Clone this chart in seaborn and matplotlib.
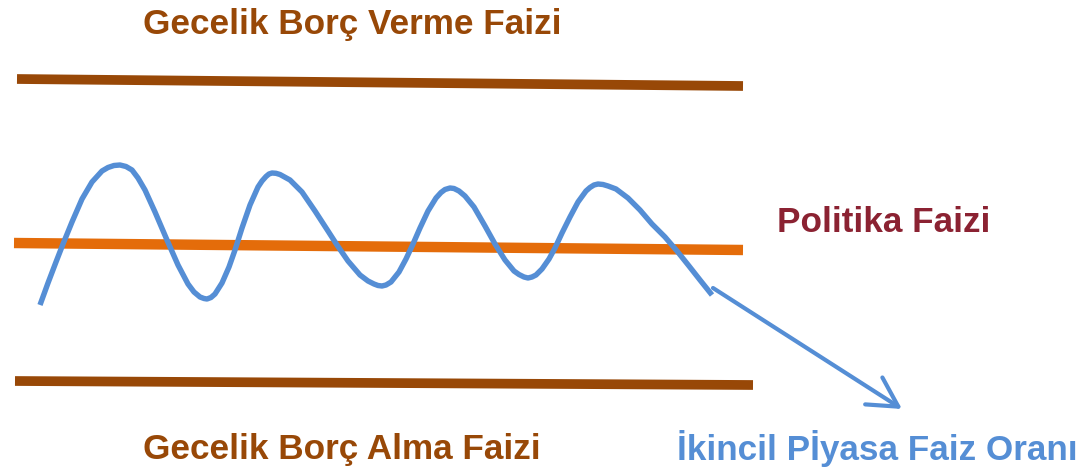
import matplotlib as mpl
import matplotlib.pyplot as plt
import numpy as np
import pandas as pd
import seaborn as sns

# values, in picture pixels (y grows downwards)
upper_band_x = [17, 743]
upper_band_y = [79, 86]
policy_x = [14, 743]
policy_y = [243, 250]
lower_band_x = [15, 753]
lower_band_y = [381, 385]

wave_x = [40, 48, 56, 63, 72, 82, 92, 102, 108, 114, 120,
          126, 132, 138, 145, 155, 167, 178, 188, 194, 200, 204, 207,
          211, 215, 222, 229, 235, 242, 250, 258, 262, 266, 269, 272,
          276, 280, 290, 302, 315, 328, 337, 348, 360, 368, 374, 378, 382,
          386, 391, 399, 406, 413, 420, 428, 436, 441, 445, 450,
          454, 459, 465, 474, 485, 495, 505, 514, 519, 524, 528,
          532, 536, 542, 549, 555, 562, 570, 578, 586, 590, 594, 598,
          603, 608, 616, 628, 640, 652, 665, 677, 689, 700, 712]
wave_y = [305, 283, 262, 244, 222, 199, 182, 171, 167.5, 165.5, 165,
          166.5, 170, 178, 190, 212, 240, 265, 284, 292, 297, 298.5, 299,
          297.5, 294, 283, 267, 250, 228, 205, 187, 181, 176.5, 174, 173,
          173.3, 174.5, 180, 192, 211, 231, 245, 261, 275, 281, 284, 285.5, 286,
          285, 282, 272, 259, 244, 228, 211, 198, 192.5, 189.5, 188,
          188.5, 191, 196, 207, 226, 244, 260, 271, 274.5, 277, 278,
          277, 275, 269, 259, 248, 233, 217, 202, 191, 187.5, 185, 184,
          184.5, 186, 189, 198, 210, 224, 237, 251, 266, 280, 295]

arrow_start = (713, 288)
arrow_end = (902, 409)

labels = ['Gecelik Borç Verme Faizi', 'Politika Faizi',
          'Gecelik Borç Alma Faizi', 'İkincil Pİyasa Faiz Oranı']
label_x = [143, 777, 143, 677]
label_y = [34, 232, 459, 460]

brown = '#984807'
orange = '#E46C0A'
wine = '#8B2232'
blue = '#558ED5'
label_colors = [brown, wine, brown, blue]

sns.set_style('white')
plt.rcParams['font.family'] = ['Liberation Sans', 'DejaVu Sans']

fig = plt.figure(figsize=(10.84, 4.72), dpi=100)
ax = fig.add_axes([0, 0, 1, 1])

bands = pd.DataFrame({
    'x': upper_band_x + lower_band_x,
    'y': upper_band_y + lower_band_y,
    'band': ['upper'] * 2 + ['lower'] * 2,
})
sns.lineplot(data=bands, x='x', y='y', units='band', estimator=None,
             color=brown, linewidth=7, solid_capstyle='butt', ax=ax)
sns.lineplot(x=policy_x, y=policy_y, color=orange, linewidth=7.5,
             solid_capstyle='butt', ax=ax)
sns.lineplot(x=wave_x, y=wave_y, sort=False, color=blue, linewidth=3.9,
             solid_capstyle='butt', solid_joinstyle='round', ax=ax)

ax.annotate('', xy=arrow_end, xytext=arrow_start,
            arrowprops=dict(arrowstyle='->,head_length=2.1,head_width=1.15',
                            color=blue, lw=3, shrinkA=0, shrinkB=0))

for txt, x, y, c in zip(labels, label_x, label_y, label_colors):
    ax.text(x, y, txt, color=c, fontsize=25.3, fontweight='bold',
            ha='left', va='baseline')

ax.set_xlim(0, 1084)
ax.set_ylim(472, 0)
ax.axis('off')

fig.savefig('out.png', dpi=100)
